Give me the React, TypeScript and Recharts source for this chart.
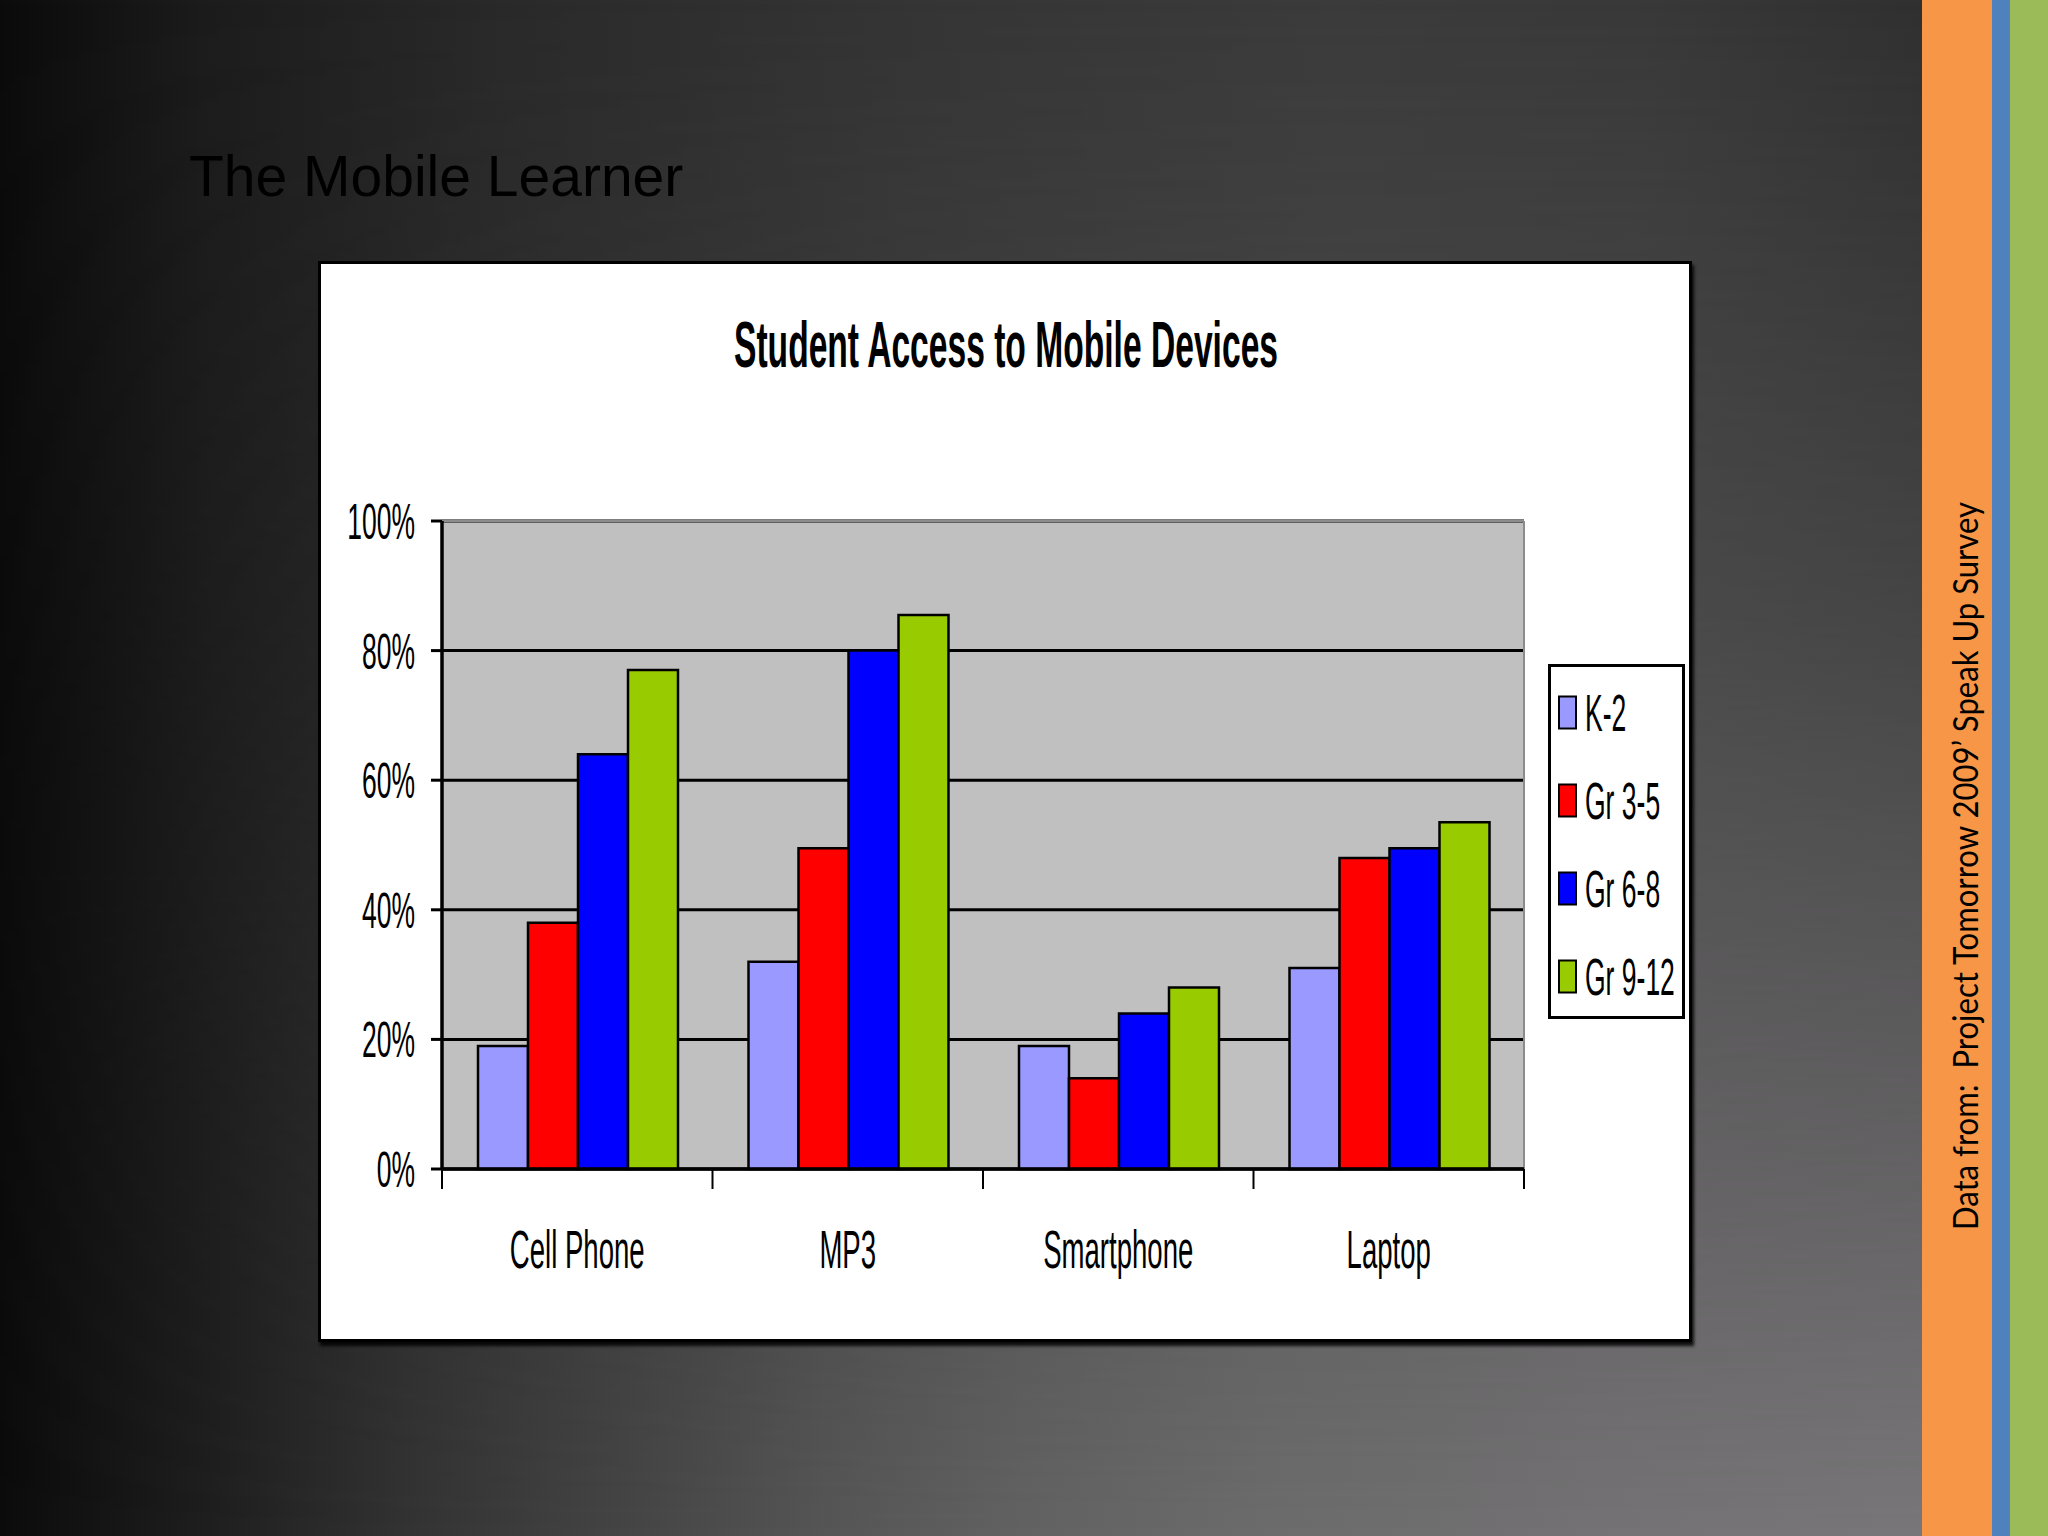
import React from 'react';
import {
  BarChart,
  Bar,
  XAxis,
  YAxis,
  CartesianGrid,
  Legend,
  ReferenceLine,
} from 'recharts';

const categories = ['Cell Phone', 'MP3', 'Smartphone', 'Laptop'];
const k2 = [19, 32, 19, 31];
const gr35 = [38, 49.5, 14, 48];
const gr68 = [64, 80, 24, 49.5];
const gr912 = [77, 85.5, 28, 53.5];
const yTicks = [0, 20, 40, 60, 80, 100];

const series = [
  { key: 'k2', name: 'K-2', color: '#9999FF' },
  { key: 'gr35', name: 'Gr 3-5', color: '#FF0000' },
  { key: 'gr68', name: 'Gr 6-8', color: '#0000FF' },
  { key: 'gr912', name: 'Gr 9-12', color: '#99CC00' },
];

const data = categories.map((category, i) => ({
  category,
  k2: k2[i],
  gr35: gr35[i],
  gr68: gr68[i],
  gr912: gr912[i],
}));

// chart box on the slide
const BOX = { left: 318, top: 261, width: 1374, height: 1081 };
const MARGIN = { top: 260, right: 168, bottom: 0, left: 0 };
const Y_AXIS_W = 124;
const X_AXIS_H = 173;
const PLOT_W = BOX.width - MARGIN.left - MARGIN.right - Y_AXIS_W;
const BAND = PLOT_W / categories.length;

const narrow = "'Liberation Sans', Arial, sans-serif";

function YTick({ x, y, payload }: any) {
  return (
    <text
      transform={`translate(${x},${y}) scale(0.53,1)`}
      textAnchor="end"
      dy="0.36em"
      fontSize={50}
      fontFamily={narrow}
      fill="#000"
    >
      {payload.value}%
    </text>
  );
}

function XTick({ x, y, payload, index }: any) {
  const left = x - BAND / 2;
  const right = x + BAND / 2;
  return (
    <g>
      <line x1={left} x2={left} y1={y} y2={y + 20} stroke="#000" strokeWidth={2} />
      {index === categories.length - 1 && (
        <line x1={right} x2={right} y1={y} y2={y + 20} stroke="#000" strokeWidth={2} />
      )}
      <text
        transform={`translate(${x},${y + 99}) scale(0.52,1)`}
        textAnchor="middle"
        fontSize={53}
        fontFamily={narrow}
        fill="#000"
      >
        {payload.value}
      </text>
    </g>
  );
}

function LegendBox({ payload }: any) {
  const order = series.map((s) => s.name);
  const items = [...(payload || [])].sort(
    (a: any, b: any) => order.indexOf(a.value) - order.indexOf(b.value)
  );
  return (
    <svg width={137} height={355} style={{ display: 'block' }}>
      <rect x={1.5} y={1.5} width={134} height={352} fill="#fff" stroke="#000" strokeWidth={3} />
      {items.map((entry: any, i: number) => {
        const cy = 48.5 + i * 88;
        return (
          <g key={entry.value}>
            <rect
              x={11}
              y={cy - 16}
              width={17}
              height={32}
              fill={entry.color}
              stroke="#000"
              strokeWidth={2}
            />
            <text
              transform={`translate(37,${cy}) scale(0.52,1)`}
              dy="0.36em"
              fontSize={51}
              fontFamily={narrow}
              fill="#000"
            >
              {entry.value}
            </text>
          </g>
        );
      })}
    </svg>
  );
}

export default function App() {
  return (
    <div
      style={{
        position: 'absolute',
        left: 0,
        top: 0,
        width: 2048,
        height: 1536,
        overflow: 'hidden',
        background:
          'linear-gradient(to right, #0b0b0b 0%, #1c1c1c 10%, #2a2a2a 25%, #353535 45%, #3b3b3b 65%, #393939 80%, #303030 94%)',
      }}
    >
      <div
        style={{
          position: 'absolute',
          inset: 0,
          background:
            'linear-gradient(to right, #0b0b0b 0%, #1e1e1e 10%, #333 20%, #444 30%, #555 40%, #626262 50%, #6c6c6c 62%, #747274 78%, #7a787a 100%)',
          WebkitMaskImage:
            'linear-gradient(to bottom, transparent 0%, rgba(0,0,0,0.3) 40%, #000 100%)',
          maskImage: 'linear-gradient(to bottom, transparent 0%, rgba(0,0,0,0.3) 40%, #000 100%)',
        }}
      />
      {/* theme stripes */}
      <div style={{ position: 'absolute', left: 1922, top: 0, width: 70, height: 1536, background: '#F79646' }} />
      <div style={{ position: 'absolute', left: 1992, top: 0, width: 18, height: 1536, background: '#4F81BD' }} />
      <div style={{ position: 'absolute', left: 2010, top: 0, width: 38, height: 1536, background: '#9BBB59' }} />

      <svg
        width={2048}
        height={1536}
        style={{ position: 'absolute', left: 0, top: 0, pointerEvents: 'none' }}
      >
        <text x={189} y={196} fontSize={57} fontFamily={narrow} fill="#000">
          The Mobile Learner
        </text>
        <text
          transform="translate(1978,866) rotate(-90)"
          textAnchor="middle"
          fontSize={34}
          fontFamily="Lato, 'Open Sans', sans-serif"
          textLength={728}
          lengthAdjust="spacingAndGlyphs"
          fill="#000"
          style={{ whiteSpace: 'pre' }}
        >
          {'Data from:  Project Tomorrow 2009’ Speak Up Survey'}
        </text>
      </svg>

      {/* chart box */}
      <div
        style={{
          position: 'absolute',
          left: BOX.left,
          top: BOX.top,
          width: BOX.width,
          height: BOX.height,
          boxSizing: 'border-box',
          background: '#fff',
          border: '3px solid #000',
          boxShadow: '2px 4px 3px rgba(0,0,0,0.85)',
        }}
      />
      <svg
        width={2048}
        height={1536}
        style={{ position: 'absolute', left: 0, top: 0, pointerEvents: 'none' }}
      >
        <text
          transform="translate(1006,367) scale(0.517,1)"
          textAnchor="middle"
          fontSize={65}
          fontWeight="bold"
          fontFamily={narrow}
          fill="#000"
        >
          Student Access to Mobile Devices
        </text>
      </svg>

      <div style={{ position: 'absolute', left: BOX.left, top: BOX.top }}>
        <BarChart
          width={BOX.width}
          height={BOX.height}
          data={data}
          margin={MARGIN}
          barCategoryGap={36}
          barGap={0}
        >
          <CartesianGrid
            vertical={false}
            stroke="#000"
            strokeWidth={3}
            fill="#C0C0C0"
            fillOpacity={1}
          />
          <XAxis
            dataKey="category"
            height={X_AXIS_H}
            axisLine={{ stroke: '#000', strokeWidth: 3.5 }}
            tickLine={false}
            tickSize={0}
            tickMargin={0}
            interval={0}
            tick={<XTick />}
          />
          <YAxis
            width={Y_AXIS_W}
            domain={[0, 100]}
            ticks={yTicks}
            interval={0}
            axisLine={{ stroke: '#000', strokeWidth: 3.5 }}
            tickLine={{ stroke: '#000', strokeWidth: 3 }}
            tickSize={11}
            tickMargin={16}
            tick={<YTick />}
          />
          <ReferenceLine y={100} stroke="#8c8c8c" strokeWidth={2} />
          <ReferenceLine x="Laptop" position="end" stroke="#8c8c8c" strokeWidth={2} />
          <Legend
            layout="horizontal"
            align="center"
            verticalAlign="middle"
            wrapperStyle={{ left: 1230, top: 403, width: 137, height: 355 }}
            content={(props: any) => <LegendBox payload={props.payload} />}
          />
          {series.map((s) => (
            <Bar
              key={s.key}
              dataKey={s.key}
              name={s.name}
              fill={s.color}
              stroke="#000"
              strokeWidth={2.5}
              isAnimationActive={false}
            />
          ))}
        </BarChart>
      </div>
    </div>
  );
}
